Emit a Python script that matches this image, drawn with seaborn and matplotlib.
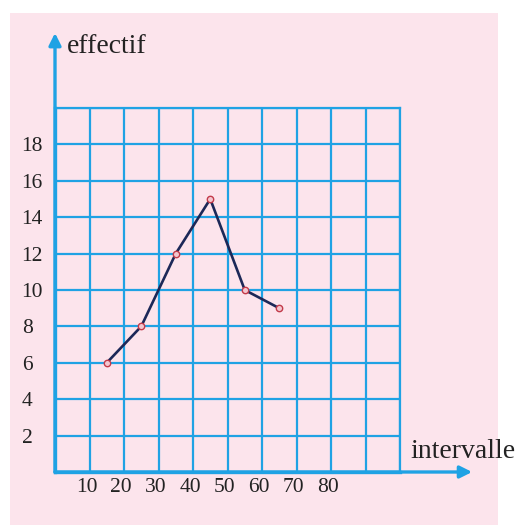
import matplotlib
matplotlib.use("Agg")
import matplotlib.pyplot as plt
import matplotlib.transforms as mtransforms
import seaborn as sns
import pandas as pd
from matplotlib.patches import Rectangle

# ---- data ----
intervalle = [15, 25, 35, 45, 55, 65]
effectif = [6, 8, 12, 15, 10, 9]
x_tick_values = [10, 20, 30, 40, 50, 60, 70, 80]
y_tick_values = [2, 4, 6, 8, 10, 12, 14, 16, 18]
x_label = "intervalle"
y_label = "effectif"

sns.set_style("white")
plt.rcParams["font.family"] = ["Liberation Serif", "DejaVu Serif"]

BLUE = "#1fa2e4"
PINK = "#fce4ec"
TXT = "#222222"

W, H = 521, 525
fig = plt.figure(figsize=(W / 100, H / 100), dpi=100)
fig.patch.set_facecolor("white")
fig.add_artist(Rectangle((10 / W, 0), (498 - 10) / W, (H - 13) / H,
                         transform=fig.transFigure, facecolor=PINK,
                         edgecolor="none", zorder=-5))

ax = fig.add_axes([55 / W, (H - 472) / H, 345 / W, 364 / H])
ax.set_facecolor("none")

df = pd.DataFrame({"intervalle": intervalle, "effectif": effectif})
sns.lineplot(data=df, x="intervalle", y="effectif", ax=ax, color="#1c2858",
             linewidth=1.9, marker="o", markersize=4.6,
             markerfacecolor="#f3c6cf", markeredgecolor="#c23a4a",
             markeredgewidth=1.0, zorder=5)

ax.set_xlim(0, 100)
ax.set_ylim(0, 20)

grid_x = list(range(0, 101, 10))
grid_y = list(range(0, 21, 2))
ax.set_xticks(grid_x)
ax.set_xticklabels([str(v) if v in x_tick_values else "" for v in grid_x])
ax.set_yticks(grid_y)
ax.set_yticklabels([str(v) if v in y_tick_values else "" for v in grid_y])

ax.grid(True, color=BLUE, linewidth=1.6, zorder=1)
ax.set_axisbelow(True)
for s in ax.spines.values():
    s.set_visible(True)
    s.set_color(BLUE)
    s.set_linewidth(1.6)
ax.spines["left"].set_linewidth(2.4)
ax.spines["bottom"].set_linewidth(2.4)

ax.tick_params(axis="x", length=0, pad=4, labelsize=15.5, labelcolor=TXT)
ax.tick_params(axis="y", length=0, pad=24, labelsize=15.5, labelcolor=TXT)
for lab in ax.get_yticklabels():
    lab.set_horizontalalignment("left")
shift = mtransforms.ScaledTranslation(-3 / 100, 0, fig.dpi_scale_trans)
for lab in ax.get_xticklabels():
    lab.set_transform(lab.get_transform() + shift)
ax.set_xlabel("")
ax.set_ylabel("")

# axis arrows
ax.annotate("", xy=(0, 1.206), xytext=(0, 0), xycoords="axes fraction",
            textcoords="axes fraction",
            arrowprops=dict(arrowstyle="-|>", color=BLUE, lw=2.4,
                            mutation_scale=18, shrinkA=0, shrinkB=0),
            annotation_clip=False)
ax.annotate("", xy=(1.209, 0), xytext=(0, 0), xycoords="axes fraction",
            textcoords="axes fraction",
            arrowprops=dict(arrowstyle="-|>", color=BLUE, lw=2.4,
                            mutation_scale=18, shrinkA=0, shrinkB=0),
            annotation_clip=False)

ax.text(0.035, 1.151, y_label, transform=ax.transAxes, fontsize=20,
        color=TXT, ha="left", va="baseline", clip_on=False)
ax.text(1.029, 0.0385, x_label, transform=ax.transAxes, fontsize=20,
        color=TXT, ha="left", va="baseline", clip_on=False)

fig.savefig("out.png", dpi=100)
